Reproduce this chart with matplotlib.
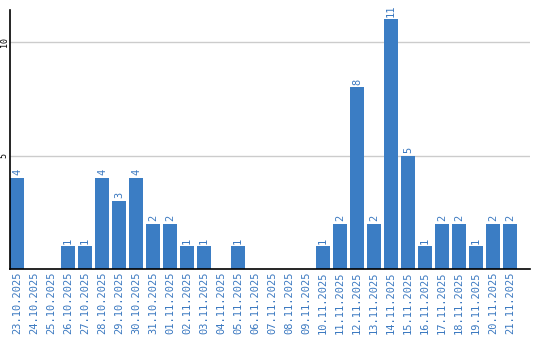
import matplotlib
matplotlib.use("Agg")
import matplotlib.pyplot as plt

# data
dates = ["23.10.2025", "24.10.2025", "25.10.2025", "26.10.2025", "27.10.2025",
         "28.10.2025", "29.10.2025", "30.10.2025", "31.10.2025", "01.11.2025",
         "02.11.2025", "03.11.2025", "04.11.2025", "05.11.2025", "06.11.2025",
         "07.11.2025", "08.11.2025", "09.11.2025", "10.11.2025", "11.11.2025",
         "12.11.2025", "13.11.2025", "14.11.2025", "15.11.2025", "16.11.2025",
         "17.11.2025", "18.11.2025", "19.11.2025", "20.11.2025", "21.11.2025"]
counts = [4, 0, 0, 1, 1, 4, 3, 4, 2, 2, 1, 1, 0, 1, 0,
          0, 0, 0, 1, 2, 8, 2, 11, 5, 1, 2, 2, 1, 2, 2]
y_ticks = [5, 10]

bar_color = "#3b7dc4"
text_color = "#3a78c0"
bar_w = 14 / 17

fig = plt.figure(figsize=(5.4, 3.4), dpi=100)
ax = fig.add_axes([10 / 540, 71 / 340, 520 / 540, 259 / 340])

xs = list(range(len(counts)))
ax.bar(xs, counts, width=bar_w, align="edge", color=bar_color, zorder=3)

for x, v in zip(xs, counts):
    if v > 0:
        ax.annotate(str(v), (x + bar_w / 2, v), xytext=(0, 2), textcoords="offset points",
                    ha="center", va="bottom", rotation=90, color=text_color,
                    fontsize=7.5, family="DejaVu Sans Mono")

ax.set_xlim(0, 520 / 17)
ax.set_ylim(0, 259 / 22.7)

ax.set_xticks([x + bar_w / 2 for x in xs])
ax.set_xticklabels(dates, rotation=90, color=text_color, fontsize=7.5, family="DejaVu Sans Mono")
ax.set_yticks(y_ticks)
ax.set_yticklabels([str(t) for t in y_ticks], rotation=90, va="center", fontsize=6,
                   family="DejaVu Sans Mono")
ax.tick_params(axis="both", length=0)
ax.tick_params(axis="x", pad=2)
ax.tick_params(axis="y", pad=1)

ax.grid(axis="y", color="#cccccc", linewidth=1, zorder=0)
for s in ["top", "right"]:
    ax.spines[s].set_visible(False)
ax.spines["left"].set_linewidth(1.2)
ax.spines["bottom"].set_linewidth(1.2)
ax.spines["left"].set_zorder(4)
ax.spines["bottom"].set_zorder(4)

fig.savefig("out.png", dpi=100)
